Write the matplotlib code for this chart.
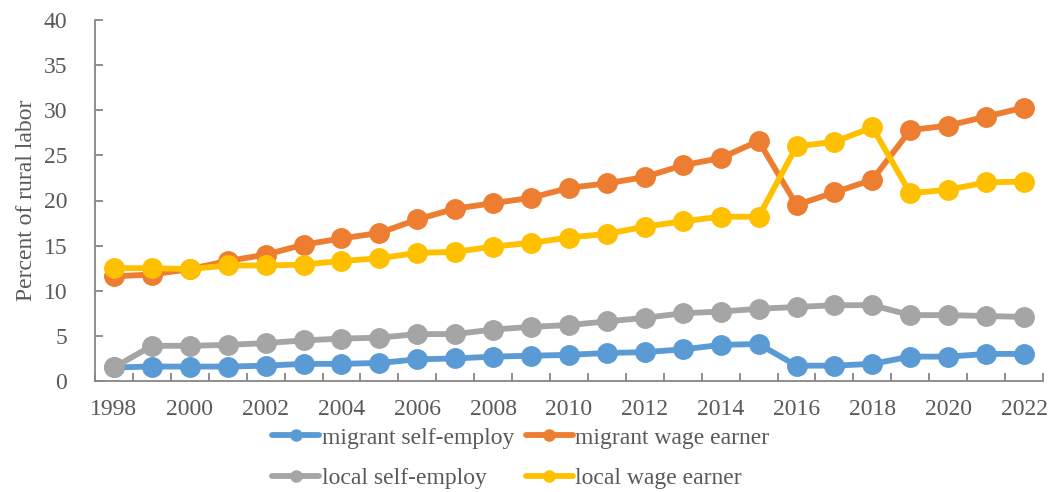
import matplotlib
matplotlib.use("Agg")
import matplotlib.pyplot as plt
import numpy as np

# rural labor shares by year (percent)
years = list(range(1998, 2023))
migrant_self = [1.5, 1.6, 1.6, 1.6, 1.7, 1.9, 1.9, 2.0, 2.4, 2.5, 2.7, 2.8, 2.9, 3.1, 3.2, 3.5,
                4.0, 4.1, 1.7, 1.7, 1.9, 2.7, 2.7, 3.0, 3.0]
migrant_wage = [11.6, 11.8, 12.4, 13.3, 14.0, 15.1, 15.8, 16.4, 17.9, 19.1, 19.7, 20.3, 21.4, 21.9, 22.6, 23.9,
                24.7, 26.6, 19.5, 20.9, 22.3, 27.8, 28.3, 29.3, 30.3]
local_self = [1.5, 3.9, 3.9, 4.0, 4.2, 4.5, 4.7, 4.8, 5.2, 5.2, 5.7, 6.0, 6.2, 6.6, 7.0, 7.5,
              7.7, 8.0, 8.2, 8.4, 8.4, 7.3, 7.3, 7.2, 7.1]
local_wage = [12.5, 12.5, 12.4, 12.8, 12.8, 12.9, 13.3, 13.6, 14.2, 14.3, 14.9, 15.3, 15.9, 16.3, 17.1, 17.7,
              18.2, 18.2, 26.0, 26.5, 28.1, 20.8, 21.2, 22.0, 22.1]

labels = ["migrant self-employ", "migrant wage earner", "local self-employ", "local wage earner"]
colors = ["#5B9BD5", "#ED7D31", "#A5A5A5", "#FFC000"]

plt.rcParams['font.family'] = ['Liberation Serif', 'DejaVu Serif']
txt_color = "#595959"
axis_color = "#868686"
fs = 17

fig = plt.figure(figsize=(10.49, 4.92), dpi=100)
ax = fig.add_axes([95/1049, 1 - 381/492, (1043-95)/1049, (381-20)/492])

x = np.arange(len(years))
lines = []
for vals, c, lab in zip([migrant_self, migrant_wage, local_self, local_wage], colors, labels):
    ln, = ax.plot(x, vals, color=c, lw=4.2, marker='o', ms=14, label=lab, solid_capstyle='round')
    lines.append(ln)

ax.set_xlim(-0.5, len(years) - 0.5)
ax.set_ylim(0, 40)
ax.set_yticks(range(0, 45, 5))
ax.set_xticks(x[::2])
ax.set_xticklabels([str(y) for y in years[::2]])
# tick marks sit between the year categories
ax.set_xticks(np.arange(-0.5, len(years), 1), minor=True)

for s in ['top', 'right']:
    ax.spines[s].set_visible(False)
for s in ['left', 'bottom']:
    ax.spines[s].set_color(axis_color)
    ax.spines[s].set_linewidth(1.3)

ax.tick_params(axis='x', which='major', length=0, pad=13, labelsize=fs, labelcolor=txt_color)
ax.tick_params(axis='x', which='minor', direction='in', length=6, width=1.3, color=axis_color)
ax.tick_params(axis='y', direction='in', length=6, width=1.3, color=axis_color,
               pad=20, labelsize=fs, labelcolor=txt_color)

ax.set_ylabel("Percent of rural labor", fontsize=fs, color=txt_color, labelpad=5)

# legend filled row by row
order = [0, 2, 1, 3]
leg = fig.legend([lines[i] for i in order], [labels[i] for i in order],
                 loc='upper left', bbox_to_anchor=(272/1049, 1 - 427/492), ncol=2,
                 frameon=False, fontsize=fs, handlelength=2.0, handletextpad=0.1,
                 columnspacing=0.5, labelspacing=0.8, borderpad=0, borderaxespad=0,
                 labelcolor=txt_color)
for h in leg.legend_handles:
    h.set_markersize(8)

fig.savefig("out.png", dpi=100)
